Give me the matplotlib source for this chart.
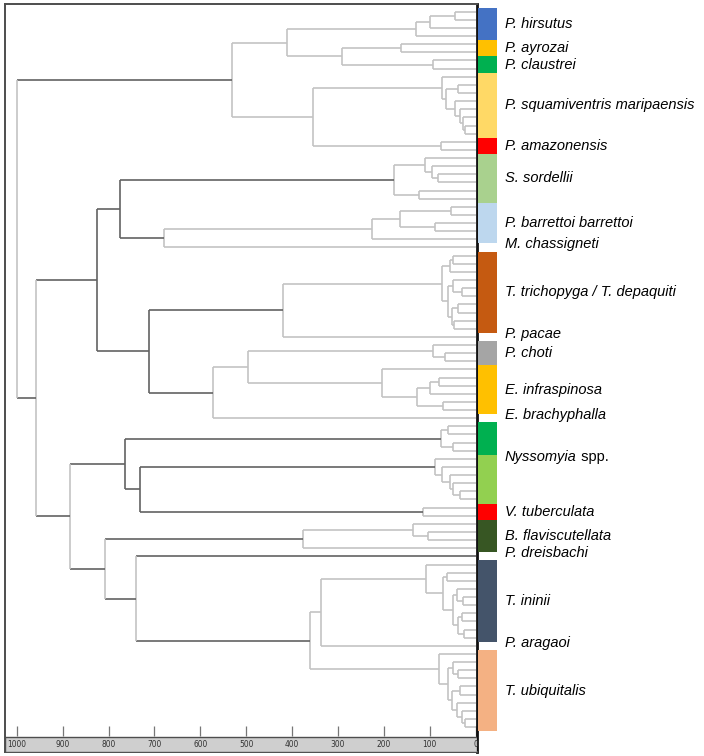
import matplotlib
matplotlib.use("Agg")
import matplotlib.pyplot as plt
from matplotlib.patches import Rectangle
from matplotlib.transforms import blended_transform_factory

# leaf marker; a node is (height, upper child, lower child)
L = 0

hirsutus = (130, (100, (45, L, L), L), L)
ayrozai = (163, L, L)
claustrei = (93, L, L)
squamiventris = (74, L, (65, (38, L, L), (45, L, (34, L, (27, L, (23, L, L))))))
amazonensis = (76, L, L)
sordellii = (177, (110, L, (95, L, (83, L, L))), (124, L, L))
barrettoi = (225, (165, (54, L, L), (89, L, L)), L)
trichopyga = (73, (56, (49, L, L), L), (61, (49, L, (30, L, L)), (52, (38, L, L), (47, L, L))))
choti = (94, L, (67, L, L))
infraspinosa = (205, L, (127, (100, (79, L, L), L), (71, L, L)))
nyssomyia_a = (76, (60, L, L), (50, L, L))
nyssomyia_b = (88, L, (74, L, (57, L, (50, L, (34, L, L)))))
tuberculata = (114, L, L)
flaviscutellata = (376, (137, L, (105, L, L)), L)
ininii = (109, L, (72, (63, L, L), (50, (40, L, (28, L, L)), (38, (30, L, L), (25, L, L)))))
ubiquitalis = (79, L, (60, (50, L, (38, L, L)), (52, (35, L, L), (41, L, (30, L, (23, L, L))))))

top_clade = (531, (411, hirsutus, (291, ayrozai, claustrei)), (354, squamiventris, amazonensis))
mid_clade = (826, (775, sordellii, (679, barrettoi, L)),
             (711, (419, trichopyga, L), (572, (497, choti, infraspinosa), L)))
low_clade = (884, (764, nyssomyia_a, (731, nyssomyia_b, tuberculata)),
             (807, flaviscutellata, (740, L, (361, (337, ininii, L), ubiquitalis))))
tree = (1000, top_clade, (958, mid_clade, low_clade))

label_names = ["P. hirsutus", "P. ayrozai", "P. claustrei", "P. squamiventris maripaensis",
               "P. amazonensis", "S. sordellii", "P. barrettoi barrettoi", "M. chassigneti",
               "T. trichopyga / T. depaquiti", "P. pacae", "P. choti", "E. infraspinosa",
               "E. brachyphalla", "Nyssomyia spp.", "V. tuberculata", "B. flaviscutellata",
               "P. dreisbachi", "T. ininii", "P. aragaoi", "T. ubiquitalis"]
label_sizes = [4, 2, 2, 8, 2, 6, 5, 1, 10, 1, 3, 6, 1, 10, 2, 4, 1, 10, 1, 10]

band_sizes = [4, 2, 2, 8, 2, 6, 5, 1, 10, 1, 3, 6, 1, 4, 6, 2, 4, 1, 10, 1, 10]
band_colors = ["#4472c4", "#ffc000", "#00b050", "#ffd966", "#ff0000", "#a9d18e", "#bdd7ee", None,
               "#c55a11", None, "#a5a5a5", "#ffc000", None, "#00b050", "#92d050", "#ff0000",
               "#375623", None, "#44546a", None, "#f4b183"]

scale_ticks = [1000, 900, 800, 700, 600, 500, 400, 300, 200, 100, 0]

LIGHT = "#c3c3c3"
DARK = "#626262"

W, H = 704, 756
fig = plt.figure(figsize=(W / 100, H / 100), dpi=100)
fig.patch.set_facecolor("white")

box = [5 / W, 1 - 752 / H, (477 - 5) / W, (752 - 4.3) / H]
ax = fig.add_axes(box)
ax.set_xlim(1025.5, -2.8)
ax.set_ylim(91.06, -0.91)
ax.set_xticks([])
ax.set_yticks([])
for side in ["left", "top", "bottom"]:
    ax.spines[side].set_color("#4d4d4d")
    ax.spines[side].set_linewidth(1.4)
ax.spines["right"].set_color("#111111")
ax.spines["right"].set_linewidth(2)

counter = [0]


def draw(node):
    if node == L:
        y = counter[0]
        counter[0] += 1
        return y, 0
    h, a, b = node
    ya, ha = draw(a)
    yb, hb = draw(b)
    hcol = DARK if h >= 700 else LIGHT
    vcol = DARK if 700 <= h < 830 and h != 740 and h != 807 else LIGHT
    ax.plot([h, ha], [ya, ya], color=hcol, lw=1.2, solid_capstyle="butt", zorder=2)
    ax.plot([h, hb], [yb, yb], color=hcol, lw=1.2, solid_capstyle="butt", zorder=2)
    ax.plot([h, h], [ya, yb], color=vcol, lw=1.2, solid_capstyle="butt", zorder=2)
    return (ya + yb) / 2, h


draw(tree)

# scale band at the bottom
ax.add_patch(Rectangle((0, 0), 1, 0.0205, transform=ax.transAxes,
                       facecolor="#cfcfcf", edgecolor="#4d4d4d", lw=1, zorder=3))
tr = blended_transform_factory(ax.transData, ax.transAxes)
ax.vlines(scale_ticks, 0.0214, 0.0352, transform=tr, color="#777777", lw=0.9)
for t in scale_ticks:
    ax.text(t, 0.0095, str(t), transform=tr, ha="center", va="center",
            fontsize=6, fontstretch="condensed", color="#333333", zorder=4)

# coloured bands and names
ax2 = fig.add_axes([477 / W, box[1], (W - 477) / W, box[3]])
ax2.set_xlim(0, 1)
ax2.set_ylim(91.06, -0.91)
ax2.axis("off")

start = 0
for n, c in zip(band_sizes, band_colors):
    if c is not None:
        ax2.barh(start + (n - 1) / 2, 0.083, height=n, left=0.005, color=c, lw=0)
    start += n

start = 0
for name, n in zip(label_names, label_sizes):
    yc = start + (n - 1) / 2
    if n == 1:
        yc -= 0.4
    if name.endswith(" spp."):
        yc -= 0.7
        t = ax2.text(0.123, yc, name[:-5], style="italic", fontsize=10.5,
                     family="Liberation Sans", va="center", ha="left")
        ax2.annotate(" spp.", xy=(1, 0.5), xycoords=t, va="center", ha="left",
                     fontsize=10.5, family="Liberation Sans")
    else:
        ax2.text(0.123, yc, name, style="italic", fontsize=10.5,
                 family="Liberation Sans", va="center", ha="left")
    start += n

fig.savefig("out.png", dpi=100)
